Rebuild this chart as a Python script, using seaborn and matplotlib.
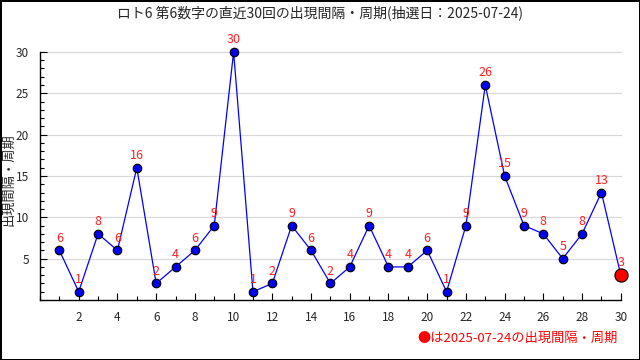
import matplotlib
matplotlib.use("Agg")
import matplotlib.pyplot as plt
import seaborn as sns
import pandas as pd
from matplotlib.ticker import MultipleLocator

sns.set_style("white")
plt.rcParams['font.family'] = ['Noto Sans CJK JP', 'DejaVu Sans']

draws = list(range(1, 31))
intervals = [6, 1, 8, 6, 16, 2, 4, 6, 9, 30, 1, 2, 9, 6, 2, 4, 9, 4, 4, 6, 1, 9, 26, 15, 9, 8, 5, 8, 13, 3]
title = "ロト6 第6数字の直近30回の出現間隔・周期(抽選日：2025-07-24)"
ylabel = "出現間隔・周期"
note = "●は2025-07-24の出現間隔・周期"

df = pd.DataFrame({"draw": draws, "interval": intervals})

fig = plt.figure(figsize=(6.4, 3.6), dpi=100)
fig.patch.set_edgecolor("black")
fig.patch.set_linewidth(2)
ax = fig.add_axes([0.0625, 0.1667, 0.9075, 0.689])

for y in [5, 10, 15, 20, 25, 30]:
    ax.axhline(y, color="#d9d9d9", lw=0.9, zorder=0)

sns.lineplot(data=df, x="draw", y="interval", ax=ax, color="#0000ff", lw=0.9, zorder=2)
sns.scatterplot(data=df.iloc[:-1], x="draw", y="interval", ax=ax, color="#0000ee",
                edgecolor="black", linewidth=0.8, s=38, zorder=3)
sns.scatterplot(data=df.iloc[-1:], x="draw", y="interval", ax=ax, color="#ff0000",
                edgecolor="black", linewidth=0.8, s=90, zorder=4)
for art in ax.collections + ax.lines:
    art.set_clip_on(False)

for x, y in zip(draws, intervals):
    ax.text(x, y + 0.7, str(y), color="#ff2020", ha="center", va="bottom", fontsize=9, zorder=5)

ax.set_xlim(0, 30)
ax.set_ylim(0, 30)
ax.set_xticks(list(range(2, 31, 2)))
ax.set_yticks([5, 10, 15, 20, 25, 30])
ax.xaxis.set_minor_locator(MultipleLocator(1))
ax.yaxis.set_minor_locator(MultipleLocator(1))
ax.tick_params(axis="both", which="both", bottom=True, left=True, direction="in",
               color="black", width=0.8)
ax.tick_params(axis="both", which="major", length=5, labelsize=8.5)
ax.tick_params(axis="both", which="minor", length=3)
ax.tick_params(axis="x", which="major", pad=8)
ax.tick_params(axis="y", which="major", pad=8)
for s in ["top", "right"]:
    ax.spines[s].set_visible(False)
for s in ["left", "bottom"]:
    ax.spines[s].set_color("black")
    ax.spines[s].set_linewidth(1)
ax.set_xlabel("")
ax.set_ylabel("")

fig.text(0.014, 0.5, ylabel, rotation=90, ha="center", va="center", fontsize=9.5)
fig.text(0.5, 0.965, title, ha="center", va="center", fontsize=10)
fig.text(0.966, 0.06, note, ha="right", va="center", fontsize=9.5, color="#ff0000")

fig.savefig("out.png", dpi=100)
